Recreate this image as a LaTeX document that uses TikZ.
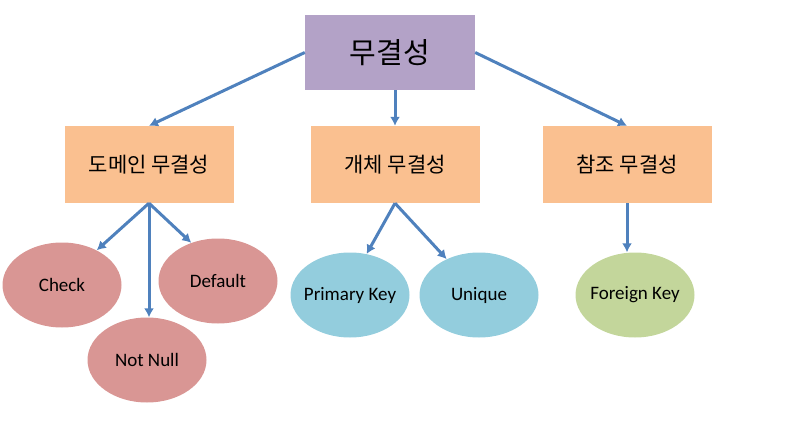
\documentclass[tikz,border=0pt]{standalone}
\usepackage{fontspec}
\setmainfont{Carlito}
\newfontfamily\kr{Noto Sans CJK KR}
\usetikzlibrary{shapes.geometric,arrows.meta}

\definecolor{rootfill}{HTML}{B3A2C7}
\definecolor{boxfill}{HTML}{FAC090}
\definecolor{domfill}{HTML}{D99694}
\definecolor{entfill}{HTML}{93CDDD}
\definecolor{reffill}{HTML}{C3D69B}
\definecolor{arrowblue}{HTML}{4F81BD}

\begin{document}
\begin{tikzpicture}[x=1pt, y=-1pt,
  rootbox/.style={rectangle, fill=rootfill, minimum width=170pt, minimum height=75pt, font=\kr\fontsize{29}{32}\selectfont},
  midbox/.style={rectangle, fill=boxfill, minimum width=169pt, minimum height=77pt, font=\kr\fontsize{21}{24}\selectfont},
  leaf/.style={ellipse, inner ysep=0pt, inner xsep=-12pt, minimum width=119pt, minimum height=85pt, font=\fontsize{19}{22}\selectfont},
  link/.style={draw=arrowblue, line width=3pt, -{Latex[length=9pt,width=10pt]}}]

\useasboundingbox (0,0) rectangle (787,436);

\node[rootbox] (root) at (390,52.5) {무결성};

\node[midbox] (dom) at (149,164.5) {도메인 무결성};
\node[midbox] (ent) at (395,164.5) {개체 무결성};
\node[midbox] (ref) at (627,164.5) {참조 무결성};

\node[leaf, fill=domfill] (check) at (62,285) {Check};
\node[leaf, fill=domfill] (default) at (218,281) {Default};
\node[leaf, fill=domfill] (notnull) at (147,360) {Not Null};

\node[leaf, fill=entfill] (pk) at (350,295) {Primary Key};
\node[leaf, fill=entfill] (unique) at (479,295) {Unique};

\node[leaf, fill=reffill] (fk) at (635,295) {Foreign Key};

\draw[link] (root.west) -- (dom.north);
\draw[link] (root.south -| ent.north) -- (ent.north);
\draw[link] (root.east) -- (ref.north);

\draw[link] (dom.south) -- (check.45);
\draw[link] (dom.south) -- (dom.south |- notnull.north);
\draw[link] (dom.south) -- (default.125);

\draw[link] (ent.south) -- (pk.68);
\draw[link] (ent.south) -- (unique.132);

\draw[link] (ref.south) -- (ref.south |- fk.north);

\end{tikzpicture}
\end{document}
